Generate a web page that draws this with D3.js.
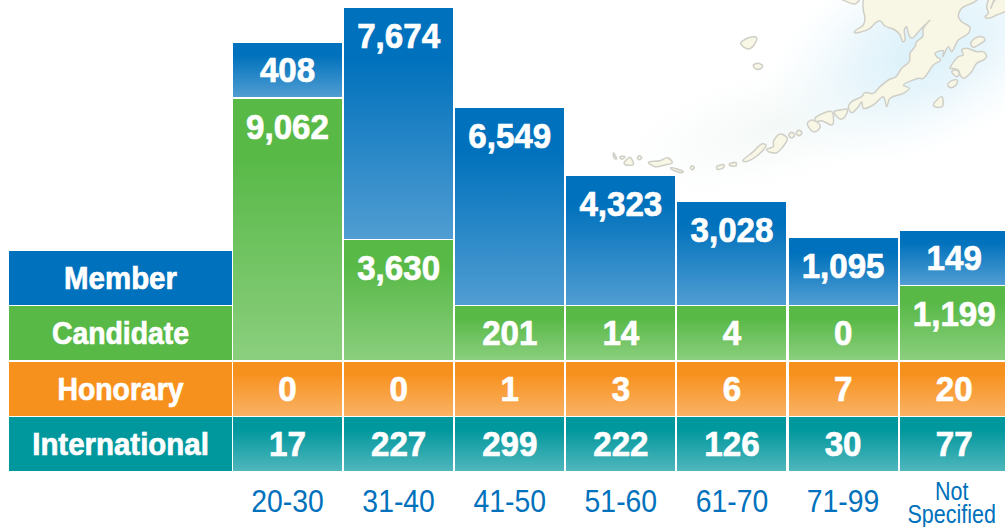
<!DOCTYPE html>
<html><head><meta charset="utf-8">
<script src="https://cdn.jsdelivr.net/npm/d3@7/dist/d3.min.js"></script>
<style>html,body{margin:0;padding:0;background:#fff}svg{display:block}</style>
</head><body><svg id="c" width="1005" height="527"></svg>
<script>
const ageGroups = ["20-30","31-40","41-50","51-60","61-70","71-99","Not Specified"];
const seriesNames = ["International","Honorary","Candidate","Member"];
const international = [17,227,299,222,126,30,77];
const honorary = [0,0,1,3,6,7,20];
const candidate = [9062,3630,201,14,4,0,1199];
const member = [408,7674,6549,4323,3028,1095,149];
const seriesValues = [international,honorary,candidate,member];
const seriesColors = [["#00979d","#4fb7bc"],["#f7911e","#f9b265"],["#58b947","#8bcf7e"],["#0071bc","#509dd2"]];
const legendStretch = [.95,.915,.915,.95];

const svg = d3.select("#c");
const defs = svg.append("defs");
seriesColors.forEach((c,i)=>{
  const g = defs.append("linearGradient").attr("id","g"+i).attr("x1",0).attr("x2",0).attr("y1",0).attr("y2",1);
  g.append("stop").attr("offset","22%").attr("stop-color",c[0]);
  g.append("stop").attr("offset","100%").attr("stop-color",c[1]);
});
const glow = defs.append("radialGradient").attr("id","glow");
glow.append("stop").attr("offset","0%").attr("stop-color","#d8f0fa").attr("stop-opacity",1);
glow.append("stop").attr("offset","45%").attr("stop-color","#e4f4fb").attr("stop-opacity",.8);
glow.append("stop").attr("offset","100%").attr("stop-color","#f2fafd").attr("stop-opacity",0);
const glow2 = defs.append("radialGradient").attr("id","glow2");
glow2.append("stop").attr("offset","0%").attr("stop-color","#f3f8f6").attr("stop-opacity",1);
glow2.append("stop").attr("offset","100%").attr("stop-color","#f8fbfa").attr("stop-opacity",0);

// decorative Alaska backdrop, traced at 3x from two origins
const mainland = [
 [[135,-6],[130,30],[135,55],[130,75],[108,90],[103,98],[120,97],[150,85],[165,70],[180,62],[195,78],[225,90],[240,105],[248,125],[255,120],[253,90],[260,80],[265,100],[275,115],[300,90],[330,60],[310,85],[308,110],[290,125],[285,140],[270,160],[268,185],[245,205],[228,230],[205,240],[180,260],[160,280],[135,278],[125,290],[95,305],[85,320],[95,338],[115,320],[125,305],[130,325],[160,315],[190,290],[200,320],[210,295],[250,280],[268,265],[250,255],[280,240],[295,235],[310,235],[340,195],[362,180],[350,170],[345,160],[370,152],[368,170],[385,140],[395,155],[415,120],[445,100],[450,82],[425,65],[415,50],[425,25],[465,5],[475,-6]],
 [[60,-6],[80,5],[105,12],[120,-6]],
 [[390,205],[415,170],[430,165],[425,150],[440,145],[470,155],[490,155],[500,170],[490,180],[470,190],[455,215],[430,235],[420,225],[415,210],[395,205]],
 [[452,130],[470,112],[490,112],[495,120],[475,135],[460,142]],
 [[395,215],[410,210],[418,222],[410,230]],
 [[383,255],[395,242],[412,240],[408,255],[392,263]],
 [[340,315],[365,290],[368,318],[350,322]],
 [[500,20],[510,-6],[522,-6],[512,25],[530,-6],[560,-6],[560,30],[530,45],[505,55],[495,50],[505,40]]
];
const chain = [
 [[702,335],[722,330],[742,328],[735,350],[722,358]],
 [[645,355],[695,335],[697,375],[665,362],[648,365]],
 [[622,370],[635,360],[660,375],[655,390],[640,395],[625,380]],
 [[566,405],[575,397],[584,405],[575,414]],
 [[588,399],[597,391],[606,399],[597,407]],
 [[520,425],[540,402],[562,415],[545,445],[530,458],[505,455],[500,448],[520,440]],
 [[428,482],[460,455],[485,432],[498,435],[490,450],[460,475],[435,485]],
 [[388,492],[408,488],[408,497],[390,497]],
 [[350,500],[372,494],[370,503],[352,508]],
 [[271,503],[277,497],[283,503],[277,509]],
 [[212,503],[250,515],[245,518],[215,508]],
 [[145,487],[180,482],[203,473],[217,488],[195,495],[165,500]],
 [[112,473],[118,467],[125,473],[118,479]],
 [[72,490],[90,472],[100,493],[78,495]],
 [[60,470],[75,470],[65,478]],
 [[40,458],[43,475],[50,477]],
 [[422,130],[450,112],[470,113],[462,135],[445,147]],
 [[460,195],[475,190],[488,198],[480,207],[465,205]]
];
const map = svg.append("g");
map.append("ellipse").attr("cx",780).attr("cy",125).attr("rx",170).attr("ry",60).attr("fill","url(#glow2)")
  .attr("transform","rotate(-15 780 125)");
map.append("ellipse").attr("cx",925).attr("cy",50).attr("rx",170).attr("ry",100).attr("fill","url(#glow)")
  .attr("transform","rotate(-25 925 50)");
const coast = d3.line().curve(d3.curveCatmullRomClosed.alpha(.5));
[[mainland,820],[chain,600]].forEach(([shapes,ox])=>{
  map.append("g").attr("transform",`translate(${ox},0) scale(${1/3})`)
    .selectAll("path").data(shapes).join("path")
    .attr("d",coast).attr("fill","#f8f6e5").attr("stroke","#cfcfc7").attr("stroke-width",4.5);
});

const x = d3.scaleBand().domain(ageGroups).range([233,1008.7]).paddingInner(0.019).paddingOuter(0);
const h = d3.scaleLinear()
  .domain([0,408,1095,1199,3028,3630,4323,6549,7674,9062])
  .range([54,54,67,74,103,120,129,197,231,261.5]);
const gaps = [1,2,1.5,0];
const baseline = 471;

const cells = [];
ageGroups.forEach((a,i)=>{
  let y = baseline;
  seriesValues.forEach((vals,s)=>{
    const ht = h(vals[i]);
    cells.push({a,s,v:vals[i],x:x(a),y:y-ht,h:ht});
    y -= ht + gaps[s];
  });
});

const bars = svg.append("g");
bars.selectAll("rect").data(cells).join("rect")
  .attr("x",d=>d.x).attr("y",d=>d.y).attr("width",x.bandwidth()).attr("height",d=>d.h)
  .attr("fill",d=>`url(#g${d.s})`).attr("shape-rendering","crispEdges");

function boldText(sel){
  return sel.attr("font-family","'Liberation Sans',Arial,sans-serif").attr("font-weight",700).attr("fill","#fff")
    .attr("stroke","#fff").attr("stroke-width",.7).attr("text-anchor","middle");
}
const fmt = d3.format(",");
svg.append("g").selectAll("text").data(cells).join("text")
  .text(d=>fmt(d.v))
  .call(boldText)
  .attr("font-size",34.5)
  .attr("transform",d=>`translate(${d.x+x.bandwidth()/2},${d.h>56 ? d.y+40 : d.y+39}) scale(.96,1)`);

// legend column
const legend = svg.append("g");
seriesNames.forEach((name,s)=>{
  let y = baseline;
  for(let k=0;k<s;k++) y -= 54+gaps[k];
  legend.append("rect").attr("x",9).attr("y",y-54).attr("width",223).attr("height",54)
    .attr("fill",seriesColors[s][0]).attr("shape-rendering","crispEdges");
  legend.append("text").text(name).call(boldText).attr("font-size",31)
    .attr("transform",`translate(120.5,${y-16}) scale(${legendStretch[s]},1)`);
});

// category axis
const axis = d3.axisBottom(x).tickSize(0).tickPadding(0);
const ax = svg.append("g").attr("transform","translate(0,471)").call(axis);
ax.select(".domain").remove();
ax.selectAll(".tick text").remove();
ax.selectAll(".tick").each(function(d){
  const g = d3.select(this);
  const label = (txt,dx,y,size,sx)=>g.append("text").text(txt).attr("fill","#0071bc").attr("text-anchor","middle")
    .attr("font-family","'Liberation Sans',sans-serif").attr("font-size",size)
    .attr("transform",`translate(${dx},${y}) scale(${sx},1)`);
  if(d.includes(" ")){
    const [a,b] = d.split(" ");
    label(a,-2.5,29,25,.86);
    label(b,-2.5,52,25,.86);
  } else {
    label(d,0,41,30.5,.93);
  }
});
</script></body></html>
